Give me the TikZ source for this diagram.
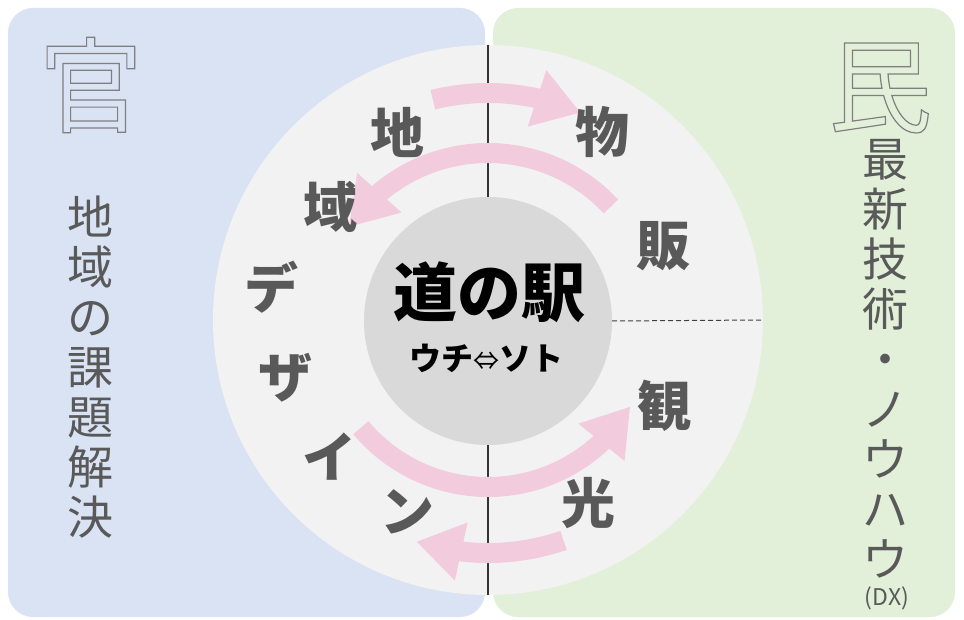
\documentclass[tikz,border=0pt]{standalone}
\usepackage{fontspec}
\newfontfamily\jp{Noto Sans CJK JP}
\usetikzlibrary{arrows.meta,bending}
\definecolor{panelblue}{HTML}{DAE3F3}
\definecolor{panelgreen}{HTML}{E2F0D9}
\definecolor{ringgray}{HTML}{F2F2F2}
\definecolor{coregray}{HTML}{D9D9D9}
\definecolor{arrowpink}{HTML}{F2CBDD}
\definecolor{textgray}{HTML}{595959}
\definecolor{outlinegray}{HTML}{7F7F7F}
\newcommand{\outlinetext}[1]{\special{pdf:literal direct 1 Tr 1.2 w}#1\special{pdf:literal direct 0 Tr}}
\tikzset{
  panel/.style={rounded corners=25pt, draw=none},
  disc/.style={circle, inner sep=0pt, outer sep=0pt, draw=none},
  ringchar/.style={font=\jp\bfseries\fontsize{54}{60}\selectfont, text=textgray, inner sep=0pt},
  sidetext/.style={font=\jp\fontsize{46}{50}\selectfont, text=textgray, align=center, inner sep=0pt},
  bigoutline/.style={font=\jp\fontsize{104}{110}\selectfont, text=outlinegray, inner sep=0pt},
  pinkarrow/.style={draw=arrowpink, line width=20pt, -{Triangle[width=56pt,length=46pt,flex]}},
  divider/.style={draw=black!80, line width=1.1pt},
  dashdivider/.style={draw=black!75, line width=1pt, dash pattern=on 5pt off 3pt}
}
\begin{document}
\begin{tikzpicture}[x=1pt,y=-1pt]
\useasboundingbox (0,0) rectangle (964,620);
\fill[white] (0,0) rectangle (964,620);
% panels
\fill[panel, panelblue] (8,8) rectangle (485,617);
\fill[panel, panelgreen] (493,8) rectangle (955,617);
% discs
\node[disc, fill=ringgray, minimum size=550pt] (big) at (488,320) {};
\node[disc, fill=coregray, minimum size=248pt] (core) at (488,321) {};
% dividers
\draw[divider] (big.north) -- (core.north);
\draw[divider] (core.south) -- (big.south);
\draw[dashdivider] (core.east) -- (big.east);
% arrows
\coordinate (a1s) at ([shift={(104:228pt)}]core.center);
\coordinate (a2s) at ([shift={(43:168pt)}]core.center);
\coordinate (a3s) at ([shift={(-140:166pt)}]core.center);
\coordinate (a4s) at ([shift={(-71:232pt)}]core.center);
\draw[pinkarrow] (a1s) arc[start angle=104, end angle=66, radius=228pt];
\draw[pinkarrow] (a2s) arc[start angle=43, end angle=146, radius=168pt];
\draw[pinkarrow] (a3s) arc[start angle=-140, end angle=-31, radius=166pt];
\draw[pinkarrow] (a4s) arc[start angle=-71, end angle=-108, radius=232pt];
% ring characters
\node[ringchar] (r1) at (397,132) {地};
\node[ringchar] (r2) at (330,207) {域};
\node[ringchar] (r3) at (271,287) {デ};
\node[ringchar] (r4) at (285,378) {ザ};
\node[ringchar] (r5) at (329,457) {イ};
\node[ringchar] (r6) at (407,512) {ン};
\node[ringchar] (r7) at (602,132) {物};
\node[ringchar] (r8) at (663,246) {販};
\node[ringchar] (r9) at (664,406) {観};
\node[ringchar] (r10) at (588,503) {光};
% centre text
\node[font=\jp\bfseries\fontsize{64}{70}\selectfont, text=black, inner sep=0pt] (title) at (489,292) {道の駅};
\node[font=\jp\bfseries\fontsize{32}{36}\selectfont, text=black, inner sep=0pt] (sub) at (486,358) {ウチ{\mdseries\fontsize{26}{30}\selectfont ⇔}ソト};
% side texts
\node[bigoutline] (kan) at (91,85) {\outlinetext{官}};
\node[bigoutline] (min) at (880,88) {\outlinetext{民}};
\node[sidetext] (lefttext) at (90,367) {地\\域\\の\\課\\題\\解\\決};
\node[sidetext] (righttext) at (885,359) {最\\新\\技\\術\\・\\ノ\\ウ\\ハ\\ウ};
\node[font=\jp\fontsize{23}{25}\selectfont, text=textgray, inner sep=0pt] (dx) at (887,598) {(DX)};
\end{tikzpicture}
\end{document}
